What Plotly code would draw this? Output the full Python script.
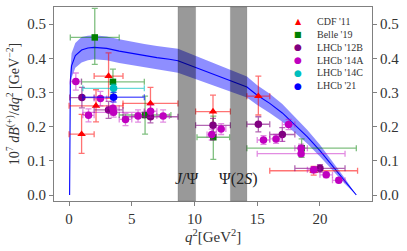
import plotly.graph_objects as go

# ---------------- data ----------------
# theory prediction (central, upper, lower) in 1e-7 GeV^-2
th_q2 = [0.045, 0.06, 0.1, 0.2, 0.5, 1.0, 1.5, 2.0, 3.0, 4.0, 5.0, 6.0, 7.0, 8.0, 8.68,
         14.18, 15.0, 16.0, 17.0, 18.0, 19.0, 20.0, 21.0, 22.0, 22.9]
th_cen = [0.0, 0.25, 0.33, 0.378, 0.408, 0.424, 0.430, 0.432, 0.429, 0.421, 0.414, 0.408, 0.402, 0.397, 0.393,
          0.316, 0.292, 0.268, 0.240, 0.205, 0.170, 0.130, 0.085, 0.040, 0.0]
th_up = [0.0, 0.27, 0.36, 0.415, 0.445, 0.462, 0.466, 0.467, 0.464, 0.456, 0.448, 0.442, 0.436, 0.431, 0.428,
         0.347, 0.321, 0.296, 0.266, 0.228, 0.190, 0.147, 0.098, 0.048, 0.0]
th_lo = [0.0, 0.23, 0.30, 0.343, 0.372, 0.388, 0.394, 0.397, 0.394, 0.386, 0.380, 0.374, 0.368, 0.363, 0.358,
         0.285, 0.263, 0.240, 0.214, 0.182, 0.150, 0.113, 0.072, 0.032, 0.0]

# resonance vetoes
veto_lo = [8.68, 12.86]
veto_hi = [10.09, 14.18]
veto_lab = ["<i>J</i>/Ψ", "Ψ(2<i>S</i>)"]
veto_lab_x = [9.4, 13.5]

# experiments: bin low, bin high, value, err up, err down
cdf_lo = [0.0, 2.0, 4.3, 10.09, 14.18, 16.0, 0.0]
cdf_hi = [2.0, 4.3, 8.68, 12.86, 16.0, 23.0, 4.3]
cdf_v = [0.178, 0.348, 0.268, 0.244, 0.289, 0.071, 0.261]
cdf_eu = [0.058, 0.068, 0.047, 0.048, 0.059, 0.013, 0.047]
cdf_ed = [0.056, 0.065, 0.045, 0.046, 0.055, 0.013, 0.047]

belle_lo = [0.1, 1.0, 4.0, 10.2, 14.18]
belle_hi = [4.0, 6.0, 8.12, 12.8, 22.9]
belle_v = [0.461, 0.331, 0.234, 0.169, 0.137]
belle_eu = [0.085, 0.037, 0.055, 0.062, 0.027]
belle_ed = [0.079, 0.037, 0.056, 0.065, 0.027]

l12_lo = [0.05, 2.0, 4.3, 10.09, 14.18, 16.0, 18.0]
l12_hi = [2.0, 4.3, 8.68, 12.86, 16.0, 18.0, 22.0]
l12_v = [0.285, 0.249, 0.229, 0.204, 0.207, 0.177, 0.078]
l12_e = [0.030, 0.025, 0.018, 0.020, 0.022, 0.020, 0.011]

l14a_lo = [0.1, 1.1, 2.0, 3.0, 4.0, 5.0, 6.0, 7.0, 11.0, 11.75, 15.0, 16.0, 17.0, 18.0, 19.0, 20.0, 21.0, 1.1, 15.0]
l14a_hi = [0.98, 2.0, 3.0, 4.0, 5.0, 6.0, 7.0, 8.0, 11.75, 12.5, 16.0, 17.0, 18.0, 19.0, 20.0, 21.0, 22.0, 6.0, 22.0]
l14a_v = [0.332, 0.233, 0.282, 0.254, 0.221, 0.231, 0.245, 0.231, 0.177, 0.193, 0.161, 0.164, 0.206, 0.137,
          0.074, 0.059, 0.043, 0.242, 0.121]
l14a_e = [0.025, 0.019, 0.021, 0.020, 0.018, 0.018, 0.018, 0.018, 0.016, 0.016, 0.013, 0.013, 0.015, 0.012,
          0.009, 0.008, 0.007, 0.014, 0.007]

l14c_lo = [1.1]
l14c_hi = [6.0]
l14c_v = [0.312]
l14c_e = [0.012]

l21_lo = [1.1]
l21_hi = [6.0]
l21_v = [0.286]
l21_e = [0.014]

x_ticks = [0, 5, 10, 15, 20]
y_ticks = [0.0, 0.1, 0.2, 0.3, 0.4, 0.5]
y_ticktext = ["0.0", "0.1", "0.2", "0.3", "0.4", "0.5"]

series_names = ["CDF '11", "Belle '19", "LHCb '12B", "LHCb '14A", "LHCb '14C", "LHCb '21"]
series_colors = ["#ff0000", "#008000", "#800080", "#bf00bf", "#00bfbf", "#0000ff"]
series_glyphs = ["▲", "■", "●", "●", "●", "●"]

FONT = "Liberation Serif"
Y_RANGE = [-0.0175, 0.55]
X_RANGE = [-1.2, 24.15]

fig = go.Figure()

# theory band
fig.add_trace(go.Scatter(x=th_q2, y=th_up, mode="lines", line=dict(width=0, color="rgba(0,0,255,0)"),
                         showlegend=False, hoverinfo="skip"))
fig.add_trace(go.Scatter(x=th_q2, y=th_lo, mode="lines", line=dict(width=0, color="rgba(0,0,255,0)"),
                         fill="tonexty", fillcolor="rgba(30,30,255,0.5)", showlegend=False, hoverinfo="skip"))
fig.add_trace(go.Scatter(x=th_q2, y=th_cen, mode="lines", line=dict(width=1.1, color="#0000ff"),
                         showlegend=False, hoverinfo="skip"))


def add_exp(name, lo, hi, v, eu, ed, color, ecolor, symbol, size):
    xc = [(a + b) / 2 for a, b in zip(lo, hi)]
    ex = [(b - a) / 2 for a, b in zip(lo, hi)]
    fig.add_trace(go.Scatter(
        x=xc, y=v, mode="markers", name=name, showlegend=False,
        marker=dict(color=color, symbol=symbol, size=size, line=dict(width=0)),
        error_x=dict(type="data", array=ex, symmetric=True, color=ecolor, thickness=1.3, width=3),
        error_y=dict(type="data", array=eu, arrayminus=ed, symmetric=False, color=ecolor, thickness=1.3, width=3),
    ))


add_exp(series_names[0], cdf_lo, cdf_hi, cdf_v, cdf_eu, cdf_ed, series_colors[0], "rgba(255,0,0,0.55)", "triangle-up", 7.5)
add_exp(series_names[1], belle_lo, belle_hi, belle_v, belle_eu, belle_ed, series_colors[1], "rgba(0,128,0,0.5)", "square", 6.5)
add_exp(series_names[2], l12_lo, l12_hi, l12_v, l12_e, l12_e, series_colors[2], "rgba(128,0,128,0.6)", "circle", 7.5)
add_exp(series_names[3], l14a_lo, l14a_hi, l14a_v, l14a_e, l14a_e, series_colors[3], "rgba(191,0,191,0.45)", "circle", 7.5)
add_exp(series_names[4], l14c_lo, l14c_hi, l14c_v, l14c_e, l14c_e, series_colors[4], "rgba(0,191,191,0.6)", "circle", 7.5)
add_exp(series_names[5], l21_lo, l21_hi, l21_v, l21_e, l21_e, series_colors[5], "rgba(0,0,255,0.6)", "circle", 7.5)

# empty trace bound to the right-hand axis
fig.add_trace(go.Scatter(x=[None], y=[None], yaxis="y2", mode="markers", showlegend=False, hoverinfo="skip"))

# resonance bands
for a, b in zip(veto_lo, veto_hi):
    fig.add_shape(type="rect", xref="x", yref="paper", x0=a, x1=b, y0=0, y1=1,
                  fillcolor="rgba(0,0,0,0.4)", line=dict(width=0.8, color="rgba(0,0,0,0.15)"), layer="above")

for xl, lab in zip(veto_lab_x, veto_lab):
    fig.add_annotation(x=xl, y=0.048, text=lab, showarrow=False, xref="x", yref="y",
                       font=dict(family=FONT, size=16, color="#222"))

# plot-area pixel geometry (for placing layout text)
W, H = 407, 251
ML, MR, MT, MB = 54, 35, 7, 50
PW, PH = W - ML - MR, H - MT - MB


def px2paper(px, py):
    return (px - ML) / PW, (H - MB - py) / PH


# legend (built from series names / colours)
for i, (nm, col, gl) in enumerate(zip(series_names, series_colors, series_glyphs)):
    row_y = 21.7 + 12.8 * i
    gx, gy = px2paper(298, row_y)
    tx, ty = px2paper(315, row_y)
    fig.add_annotation(x=gx, y=gy, xref="paper", yref="paper", text=gl, showarrow=False,
                       xanchor="center", yanchor="middle",
                       font=dict(family="DejaVu Sans", size=8 if gl != "●" else 9, color=col))
    fig.add_annotation(x=tx, y=ty, xref="paper", yref="paper", text=nm, showarrow=False,
                       xanchor="left", yanchor="middle",
                       font=dict(family=FONT, size=10, color="#333"))

# x axis title
tx, ty = px2paper(213, 236)
fig.add_annotation(x=tx, y=ty, xref="paper", yref="paper", xanchor="center", yanchor="middle",
                   text="<i>q</i><sup>2</sup>[GeV<sup>2</sup>]", showarrow=False,
                   font=dict(family=FONT, size=15, color="#333"))

axis_common = dict(showline=True, linecolor="#808080", linewidth=1, ticks="outside", tickcolor="#808080",
                   ticklen=4, tickfont=dict(family=FONT, size=15, color="#333"), showgrid=False, zeroline=False,
                   automargin=False)

fig.update_layout(
    width=W, height=H,
    margin=dict(l=ML, r=MR, t=MT, b=MB),
    paper_bgcolor="white", plot_bgcolor="white",
    showlegend=False,
    xaxis=dict(range=X_RANGE, tickvals=x_ticks, mirror=True, **axis_common),
    yaxis=dict(range=Y_RANGE, tickvals=y_ticks, ticktext=y_ticktext,
               title=dict(text="10<sup>7</sup> <i>dB</i><sup>(+)</sup>/<i>dq</i><sup>2</sup> [GeV<sup>−2</sup>]",
                          font=dict(family=FONT, size=14, color="#333"), standoff=4),
               **axis_common),
    yaxis2=dict(range=Y_RANGE, tickvals=y_ticks, ticktext=y_ticktext, overlaying="y", side="right",
                anchor="x", showticklabels=True, **axis_common),
)

fig.write_html("out.html", config={"displayModeBar": False, "staticPlot": True},
               post_script="document.body.style.margin='0';")

# remove default page margin so the figure sits at the window origin
with open("out.html", "r", encoding="utf-8") as f:
    html = f.read()
html = html.replace("<head>", "<head><style>html,body{margin:0;padding:0;overflow:hidden;}</style>", 1)
with open("out.html", "w", encoding="utf-8") as f:
    f.write(html)
